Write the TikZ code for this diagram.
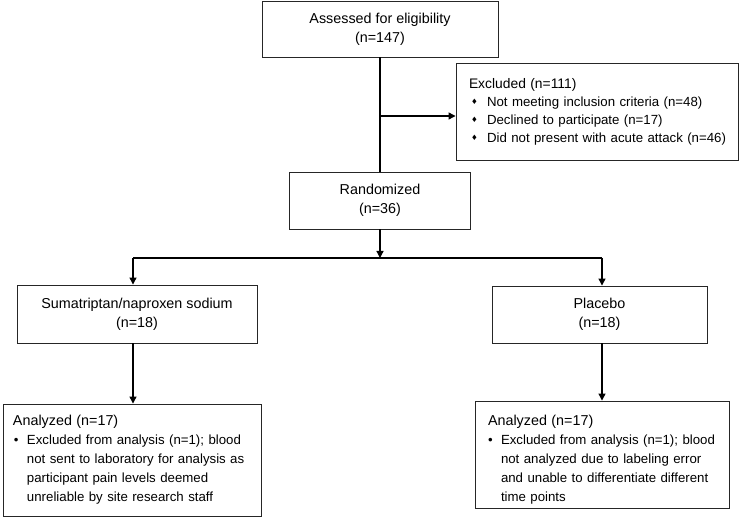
\documentclass[tikz,border=0pt]{standalone}
\usepackage{fontspec}
\setmainfont{Liberation Sans}
\newfontfamily\symfont{DejaVu Sans}
\usetikzlibrary{arrows.meta}
\newcommand\hdfont{\fontsize{14.4}{19}\selectfont}
\newcommand\itfont{\fontsize{13.3}{19}\selectfont}
\newcommand\dia{\makebox[18bp][l]{\hspace{2bp}\raisebox{1.5bp}{\symfont\fontsize{7.5}{7.5}\selectfont ♦}}}
\begin{document}
\begin{tikzpicture}[x=1bp,y=1bp,
  box/.style={draw=black!85, line width=0.9bp, rectangle, inner sep=0pt,
    font=\hdfont, align=center},
  lbox/.style={box, align=left},
  conn/.style={line width=1.2bp, draw=black},
  arr/.style={conn, -{Triangle[length=7bp,width=7bp]}}
]
\useasboundingbox (0,0) rectangle (741,-518);

\node[box, minimum width=236bp, minimum height=56bp] (assess) at (380,-29)
  {Assessed for eligibility\\(n=147)};
\node[lbox, minimum width=282bp, minimum height=97bp, inner xsep=13bp, text width=256bp,
  font=\fontsize{13.3}{18}\selectfont] (excl) at (597,-111.5)
  {{\fontsize{13.9}{18}\selectfont Excluded (n=111)}\\
   \mbox{\dia Not meeting inclusion criteria (n=48)}\\
   \mbox{\dia Declined to participate (n=17)}\\
   \mbox{\dia Did not present with acute attack (n=46)}};
\node[box, minimum width=181bp, minimum height=57bp] (rand) at (380,-200.5)
  {Randomized\\(n=36)};
\node[box, minimum width=240bp, minimum height=58bp] (suma) at (137,-314)
  {Sumatriptan/naproxen sodium\\(n=18)};
\node[box, minimum width=215bp, minimum height=57bp] (plac) at (599.5,-314.5)
  {Placebo\\(n=18)};
\node[lbox, minimum width=258bp, minimum height=112bp, inner xsep=10bp, text width=238bp,
  font=\itfont] (an1) at (132,-460)
  {{\hdfont Analyzed (n=17)}\\
   \mbox{\makebox[14bp][l]{\hspace{1bp}•}Excluded from analysis (n=1); blood}\\
   \mbox{\hspace*{14bp}not sent to laboratory for analysis as}\\
   \mbox{\hspace*{14bp}participant pain levels deemed}\\
   \mbox{\hspace*{14bp}unreliable by site research staff}};
\node[lbox, minimum width=254bp, minimum height=107bp, inner xsep=13bp, text width=228bp,
  font=\itfont] (an2) at (602,-454.5)
  {{\hdfont\rule{0pt}{21bp}Analyzed (n=17)}\\
   \mbox{\makebox[13bp][l]{•}Excluded from analysis (n=1); blood}\\
   \mbox{\hspace*{13bp}not analyzed due to labeling error}\\
   \mbox{\hspace*{13bp}and unable to differentiate different}\\
   \mbox{\hspace*{13bp}time points}};

\coordinate (ex) at (380,-116);
\coordinate (j) at (380,-258);
\coordinate (jl) at (133,-258);
\coordinate (jr) at (602,-258);

\draw[conn] (assess.south) -- (rand.north);
\draw[arr] (ex) -- (ex -| excl.west);
\draw[arr] (rand.south) -- (j);
\draw[conn] (jl) -- (jr);
\draw[arr] (jl) -- (jl |- suma.north);
\draw[arr] (jr) -- (jr |- plac.north);
\draw[arr] (jl |- suma.south) -- (jl |- an1.north);
\draw[arr] (jr |- plac.south) -- (jr |- an2.north);
\end{tikzpicture}
\end{document}
